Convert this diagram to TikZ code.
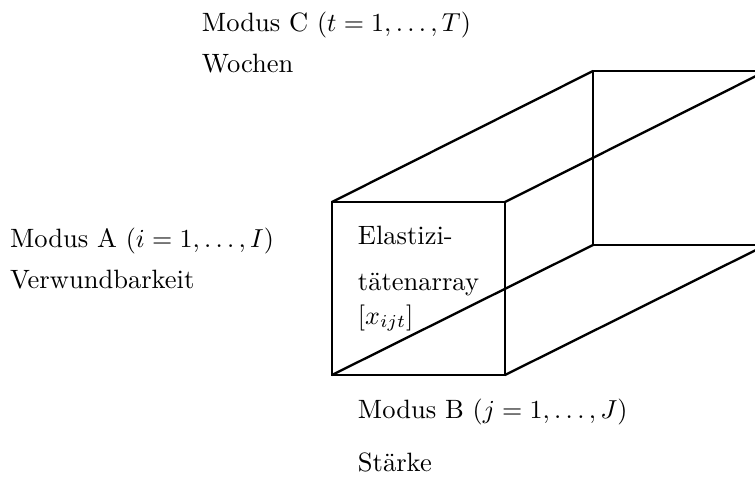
\documentclass[tikz,border=0pt]{standalone}
\begin{document}
\begin{tikzpicture}[x=0.3846pt,y=-0.3846pt,
  edge/.style={line width=0.9pt,line join=miter},
  lbl/.style={anchor=base west,inner sep=0pt,outer sep=0pt,font=\fontsize{10.2pt}{12pt}\selectfont}]
\useasboundingbox (0,0) rectangle (755,477);
\clip (0,0) rectangle (755,477);
% cuboid corners
\coordinate (A) at (332,202);
\coordinate (B) at (505,202);
\coordinate (C) at (505,375);
\coordinate (D) at (332,375);
\coordinate (E) at (593,71);
\coordinate (F) at (766,71);
\coordinate (G) at (766,245);
\coordinate (H) at (593,245);
\draw[edge] (A) -- (B) -- (C) -- (D) -- cycle;
\draw[edge] (E) -- (F) -- (G) -- (H) -- cycle;
\draw[edge] (A) -- (E);
\draw[edge] (B) -- (F);
\draw[edge] (C) -- (G);
\draw[edge] (D) -- (H);
% labels
\node[lbl] (modc) at (202,31) {Modus C $(t = 1, \ldots, T)$};
\node[lbl] (woch) at (202,72) {Wochen};
\node[lbl] (moda) at (10,247) {Modus A $(i = 1, \ldots, I)$};
\node[lbl] (verw) at (10,288) {Verwundbarkeit};
\node[lbl] (el1) at (358,244) {Elastizi-};
\node[lbl] (el2) at (358,290) {tätenarray};
\node[lbl] (el3) at (358,324) {$[x_{ijt}]$};
\node[lbl] (modb) at (358,418) {Modus B $(j = 1, \ldots, J)$};
\node[lbl] (star) at (358,471) {Stärke};
\end{tikzpicture}
\end{document}
